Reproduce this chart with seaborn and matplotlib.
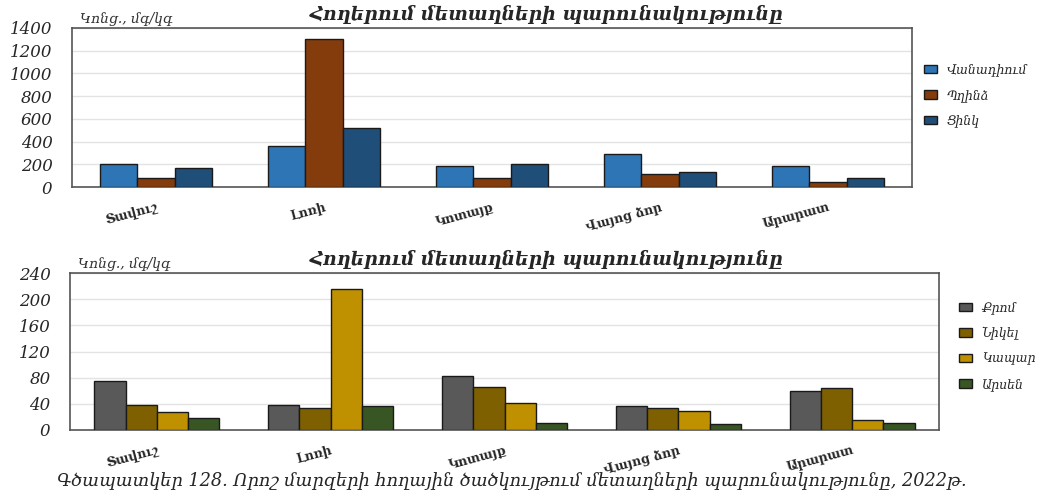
import pandas as pd
import matplotlib
matplotlib.use("Agg")
import matplotlib.pyplot as plt
import seaborn as sns

regions = ["Տավուշ", "Լոռի", "Կոտայք", "Վայոց ձոր", "Արարատ"]

top_metals = ["Վանադիում", "Պղինձ", "Ցինկ"]
vanadium = [199, 365, 181, 289, 181]
copper = [76, 1304, 76, 117, 44]
zinc = [164, 523, 205, 129, 82]
top_colors = ["#2e75b6", "#843c0c", "#1f4e79"]

bottom_metals = ["Քրոմ", "Նիկել", "Կապար", "Արսեն"]
chromium = [75, 38, 82, 37, 60]
nickel = [38, 34, 65, 34, 64]
lead = [27, 215, 42, 29, 15]
arsenic = [18, 36, 11, 9, 10]
bottom_colors = ["#595959", "#7f6000", "#bf9000", "#375623"]

title = "Հողերում մետաղների պարունակությունը"
unit = "Կոնց., մգ/կգ"
caption = "Գծապատկեր 128. Որոշ մարզերի հողային ծածկույթում մետաղների պարունակությունը, 2022թ."


def long_frame(metals, series):
    rows = []
    for metal, vals in zip(metals, series):
        for reg, v in zip(regions, vals):
            rows.append({"region": reg, "metal": metal, "value": v})
    return pd.DataFrame(rows)


sns.set_theme(style="white")
plt.rcParams["font.family"] = ["DejaVu Serif", "DejaVu Sans"]

fig = plt.figure(figsize=(10.62, 4.93), dpi=100)
W, H = 1062, 493


def draw_panel(rect, df, metals, colors, ymax, step, width, title_y, leg_pos):
    ax = fig.add_axes(rect)
    sns.barplot(data=df, x="region", y="value", hue="metal", hue_order=metals,
                palette=colors, width=width, edgecolor="#1a1a1a", linewidth=1.0,
                saturation=1, ax=ax, zorder=3)
    ax.set_ylim(0, ymax)
    yt = list(range(0, ymax + 1, step))
    ax.set_yticks(yt, labels=[str(v) for v in yt], fontstyle="italic", fontsize=12)
    ax.grid(axis="y", color="#e3e3e3", linewidth=1, zorder=0)
    ax.set_xlabel("")
    ax.set_ylabel("")
    for s in ax.spines.values():
        s.set_color("#555555")
        s.set_linewidth(1.2)
    ax.tick_params(axis="y", length=0, pad=14)
    ax.tick_params(axis="x", length=0, pad=10)
    ax.set_xticks(range(len(regions)))
    ax.set_xticklabels(regions, rotation=15, ha="right", rotation_mode="anchor",
                       fontsize=9, fontweight="bold")
    handles, labels = ax.get_legend_handles_labels()
    ax.legend_.remove()
    leg = fig.legend(handles, labels, loc="upper left", bbox_to_anchor=leg_pos,
                     frameon=False, fontsize=9, handlelength=1.0, handleheight=0.7,
                     labelspacing=1.0, handletextpad=0.8)
    for t in leg.get_texts():
        t.set_fontstyle("italic")
    fig.text(0.515, title_y, title, ha="center", va="center", fontsize=13.5,
             fontweight="bold", fontstyle="italic")
    pos = ax.get_position()
    fig.text(pos.x0 + 0.008, pos.y1 + 0.004, unit, ha="left", va="bottom",
             fontsize=10, fontstyle="italic", color="#333333")
    return ax


top_df = long_frame(top_metals, [vanadium, copper, zinc])
bottom_df = long_frame(bottom_metals, [chromium, nickel, lead, arsenic])

draw_panel([72 / W, 1 - 187 / H, 840 / W, 159 / H], top_df, top_metals,
           top_colors, 1400, 200, 0.67, 1 - 14 / H, (913 / W, 1 - 52 / H))
draw_panel([70 / W, 1 - 430 / H, 869 / W, 157 / H], bottom_df, bottom_metals,
           bottom_colors, 240, 40, 0.72, 1 - 259 / H, (948 / W, 1 - 290 / H))

fig.text(0.482, 1 - 480 / H, caption, ha="center", va="center", fontsize=12.8,
         fontstyle="italic")

fig.savefig("out.png", dpi=100)
